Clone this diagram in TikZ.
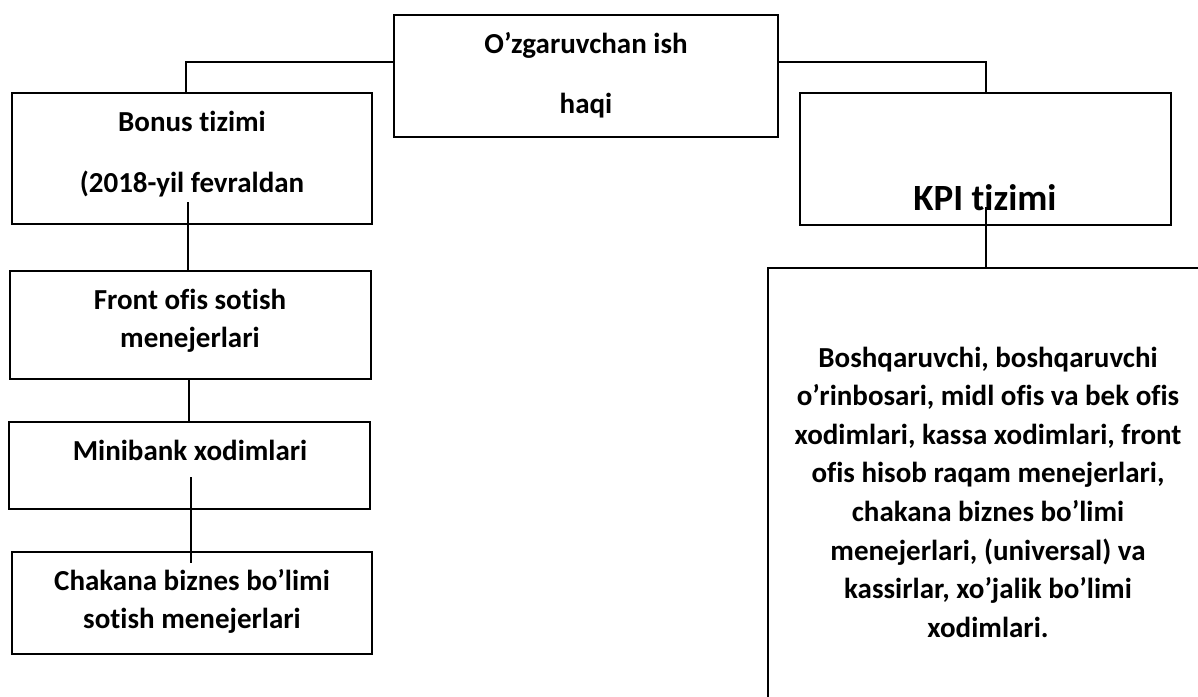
\documentclass[tikz,border=0pt]{standalone}
\usepackage{fontspec}
\setmainfont{Carlito}[Ligatures=NoCommon]
\begin{document}
\begin{tikzpicture}[x=0.5pt,y=-0.5pt,
  box/.style={draw, line width=1pt, rectangle, inner sep=0pt, outer sep=0pt},
  link/.style={line width=0.7pt},
  lbl/.style={anchor=base, inner sep=0pt, font=\fontsize{14.5}{17}\bfseries\selectfont},
  biglbl/.style={lbl, font=\fontsize{18.5}{22}\bfseries\selectfont}]
\clip (0,0) rectangle (1198,696);
\fill[white] (0,0) rectangle (1198,696);

% boxes
\node[box, minimum width=192pt, minimum height=61pt]   (top)      at (586,76)    {};
\node[box, minimum width=180pt, minimum height=65.5pt] (bonus)    at (192,158.5) {};
\node[box, minimum width=185.5pt, minimum height=66pt] (kpi)      at (985.5,159) {};
\node[box, minimum width=180.5pt, minimum height=54pt] (front)    at (190.5,325) {};
\node[box, minimum width=180.5pt, minimum height=43.5pt] (minibank) at (189.5,465.5) {};
\node[box, minimum width=180pt, minimum height=51pt]   (chakana)  at (192,603)   {};
\node[box, minimum width=236pt, minimum height=236pt]  (staff)    at (1004,504)  {};

% labels
\node[lbl] (top1) at (586,53)  {O’zgaruvchan ish};
\node[lbl] (top2) at (586,113) {haqi};
\node[lbl] (bonus1) at (192,131) {Bonus tizimi};
\node[lbl] (bonus2) at (192,192) {(2018-yil fevraldan};
\node[biglbl] (kpi1) at (985,210) {KPI tizimi};
\node[lbl] (front1) at (190,309) {Front ofis sotish};
\node[lbl] (front2) at (190,347) {menejerlari};
\node[lbl] (mini1) at (190,460) {Minibank xodimlari};
\node[lbl] (chak1) at (192,590) {Chakana biznes bo’limi};
\node[lbl] (chak2) at (192,628) {sotish menejerlari};
\foreach \t [count=\i] in {{Boshqaruvchi, boshqaruvchi},
    {o’rinbosari, midl ofis va bek ofis},
    {xodimlari, kassa xodimlari, front},
    {ofis hisob raqam menejerlari,},
    {chakana biznes bo’limi},
    {menejerlari, (universal) va},
    {kassirlar, xo’jalik bo’limi},
    {xodimlari.}}
  \node[lbl] (staff\i) at (988,{367+38.6*(\i-1)}) {\t};

% connectors
\coordinate (lc) at (186,62);
\coordinate (rc) at (986,62);
\draw[link] (top.west |- lc) -- (lc) -- (lc |- bonus.north);
\draw[link] (top.east |- rc) -- (rc) -- (rc |- kpi.north);
\coordinate (b1) at (188,202);
\draw[link] (b1) -- (b1 |- front.north);
\coordinate (f1) at (189,0);
\draw[link] (front.south -| f1) -- (minibank.north -| f1);
\coordinate (m1) at (191,477);
\coordinate (m2) at (191,563);
\draw[link] (m1) -- (m2);
\coordinate (k1) at (986,207);
\draw[link] (k1) -- (k1 |- staff.north);
\end{tikzpicture}
\end{document}
